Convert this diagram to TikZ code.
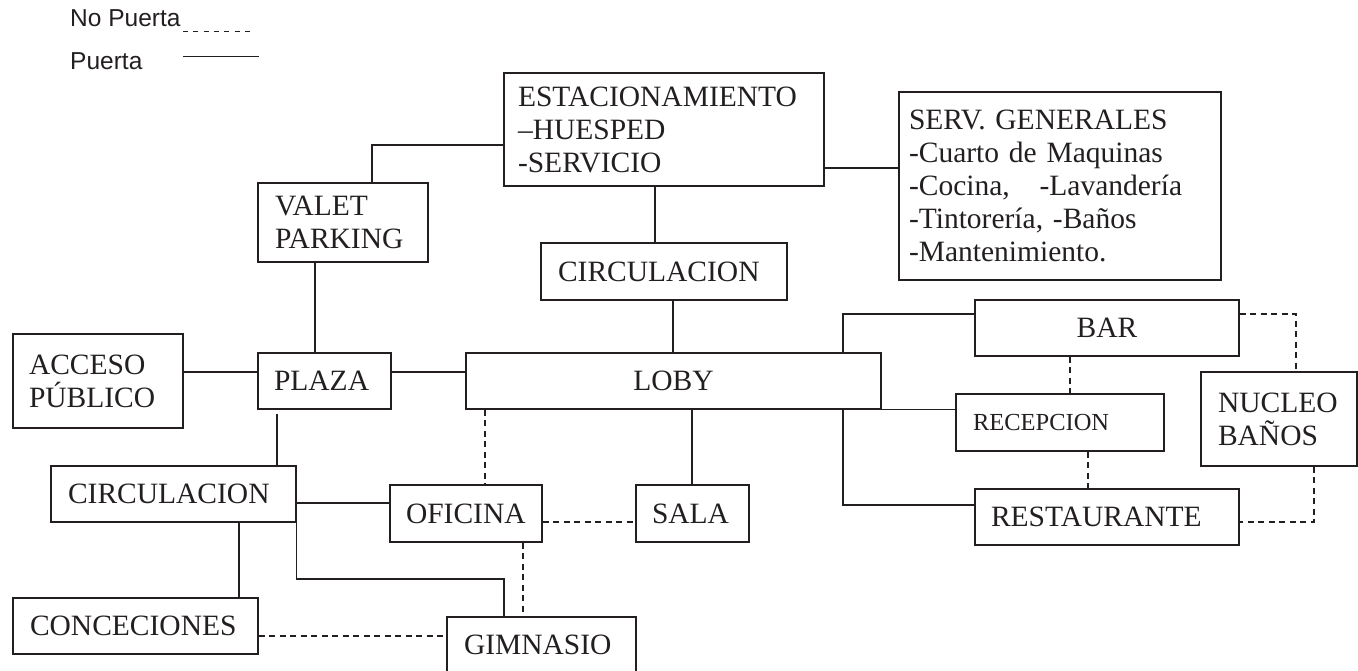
\documentclass[tikz,border=0pt]{standalone}
\usepackage{fontspec}
\setmainfont{Liberation Serif}
\newfontfamily\legendfont{Liberation Sans}
\definecolor{ink}{RGB}{35,31,32}
\tikzset{
  room/.style={draw=ink, line width=1.3pt, inner ysep=0pt, text=ink,
    font=\fontsize{29.5}{33}\selectfont},
  lroom/.style n args={3}{room, align=left, inner xsep=#3pt,
    text width=#1pt-#3pt-#3pt, minimum width=#1pt, minimum height=#2pt},
  croom/.style 2 args={room, align=center, inner xsep=0pt,
    minimum width=#1pt, minimum height=#2pt},
  door/.style={draw=ink, line width=1.3pt},
  nodoor/.style={draw=ink, line width=1.3pt, dash pattern=on 6pt off 4.5pt},
  legtext/.style={anchor=base west, inner sep=0pt, text=ink,
    font=\legendfont\fontsize{24.5}{28}\selectfont},
}
\begin{document}
\begin{tikzpicture}[x=1pt,y=-1pt]
\useasboundingbox (0,0) rectangle (1358,671);
\clip (0,0) rectangle (1358,671);

% legend
\node[legtext] (lnp) at (70,27) {No Puerta};
\node[legtext] (lp) at (70,70) {Puerta};
\coordinate (lnpA) at (183,32);
\coordinate (lnpB) at (255,32);
\coordinate (lpA) at (183,57);
\coordinate (lpB) at (259,57);
\draw[nodoor, line width=1pt, dash pattern=on 5pt off 5.3pt] (lnpA) -- (lnpB);
\draw[door, line width=1pt] (lpA) -- (lpB);

% rooms
\node[lroom={320}{113}{14}] (estac) at (664,129.5) {ESTACIONAMIENTO\\–HUESPED\\-SERVICIO};
\node[lroom={322}{188}{10}] (serv) at (1060,186) {SERV. GENERALES\\-Cuarto de Maquinas\\-Cocina,\hspace{20pt} -Lavandería\\-Tintorería, -Baños\\-Mantenimiento.};
\node[lroom={170}{79}{17}] (valet) at (343,222.5) {VALET\\PARKING};
\node[lroom={246}{57}{17}] (circ1) at (664,271.5) {CIRCULACION};
\node[lroom={170}{94}{16}] (acceso) at (98,381) {ACCESO\\PÚBLICO};
\node[lroom={133}{56}{16}] (plaza) at (324.5,381) {PLAZA};
\node[croom={415}{56}] (loby) at (673.5,381) {LOBY};
\node[croom={264}{56}] (bar) at (1107,328) {BAR};
\node[lroom={208}{57}{17}, font=\fontsize{24.5}{28}\selectfont] (recep) at (1060,422.5) {RECEPCION};
\node[lroom={264}{56}{16}] (rest) at (1107,517) {RESTAURANTE};
\node[lroom={156}{94}{17}] (nucleo) at (1279,419) {NUCLEO\\BAÑOS};
\node[lroom={245}{56}{17}] (circ2) at (173.5,494) {CIRCULACION};
\node[lroom={152}{57}{16}] (ofic) at (466,513.5) {OFICINA};
\node[lroom={113}{57}{16}] (sala) at (692.5,513.5) {SALA};
\node[lroom={245}{56}{17}] (conc) at (135.5,626) {CONCECIONES};
\node[lroom={189}{56}{17}] (gim) at (541.5,645) {GIMNASIO};

% doors (solid)
\draw[door] (estac.west |- 0,145) -| (valet.north -| 372,0);
\draw[door] (estac.east |- 0,168) -- (serv.west |- 0,168);
\draw[door] (estac.south -| 655,0) -- (circ1.north -| 655,0);
\draw[door] (valet.south -| 315,0) -- (plaza.north -| 315,0);
\draw[door] (acceso.east |- 0,372) -- (plaza.west |- 0,372);
\draw[door] (plaza.east |- 0,372) -- (loby.west |- 0,372);
\draw[door] (circ1.south -| 673,0) -- (loby.north -| 673,0);
\draw[door, shorten <=4pt] (plaza.south -| 277,0) -- (circ2.north -| 277,0);
\draw[door] (loby.south -| 692,0) -- (sala.north -| 692,0);
\draw[door] (loby.north -| 843,0) |- (bar.west |- 0,314);
\draw[door] (loby.south east) -- (recep.west |- loby.south east);
\draw[door] (loby.south -| 843,0) |- (rest.west |- 0,505);
\draw[door] (circ2.east |- 0,503) -- (ofic.west |- 0,503);
\draw[door] (circ2.south -| 239,0) -- (conc.north -| 239,0);
\draw[door] (circ2.south east) -- (circ2.south east |- 0,579) -| (gim.north -| 504,0);

% no doors (dashed)
\draw[nodoor] (loby.south -| 485,0) -- (ofic.north -| 485,0);
\draw[nodoor] (bar.south -| 1070,0) -- (recep.north -| 1070,0);
\draw[nodoor] (recep.south -| 1088,0) -- (rest.north -| 1088,0);
\draw[nodoor] (bar.east |- 0,314) -| (nucleo.north -| 1296,0);
\draw[nodoor] (nucleo.south -| 1314,0) |- (rest.east |- 0,522);
\draw[nodoor] (ofic.east |- 0,522) -- (sala.west |- 0,522);
\draw[nodoor] (ofic.south -| 523,0) -- (gim.north -| 523,0);
\draw[nodoor] (conc.east |- 0,636) -- (gim.west |- 0,636);
\end{tikzpicture}
\end{document}
